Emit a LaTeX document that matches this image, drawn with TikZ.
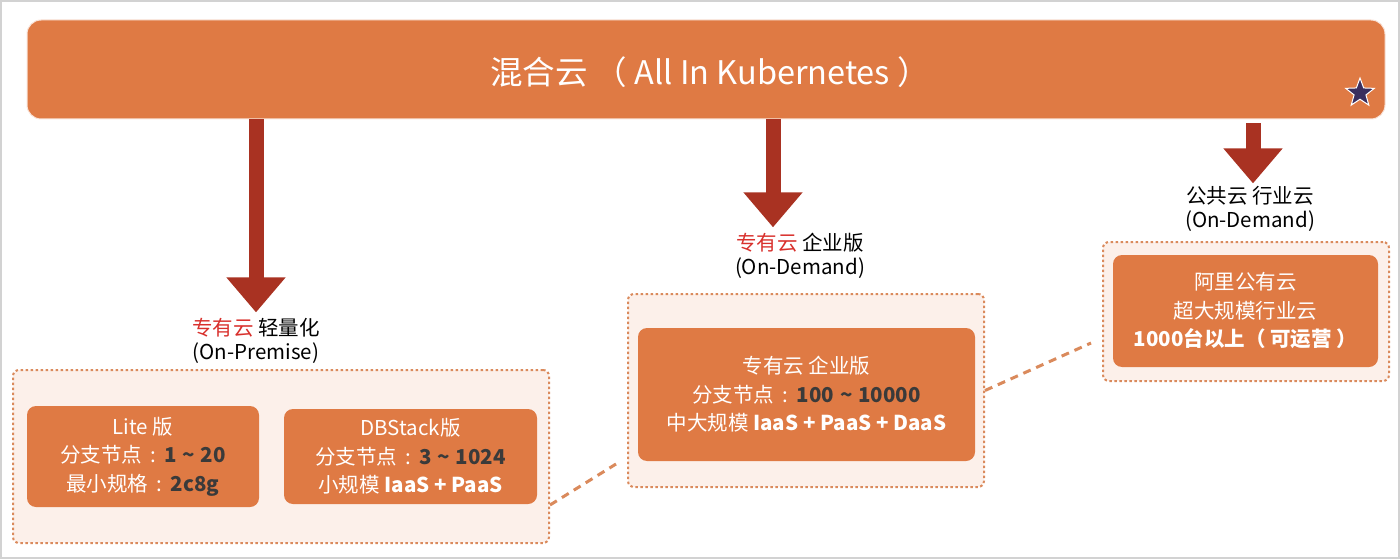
\documentclass[tikz,border=0pt]{standalone}
\usepackage{fontspec}
\setmainfont{Noto Sans CJK SC}
\usepackage{tikz}
\usetikzlibrary{arrows.meta, positioning, calc, shapes.geometric}
\usepackage{xcolor}
\definecolor{cloudorange}{HTML}{DF7A44}
\definecolor{arrowred}{HTML}{A93222}
\definecolor{peach}{HTML}{FCF0EA}
\definecolor{dotline}{HTML}{DA8A5C}
\definecolor{redtxt}{HTML}{D8302C}
\definecolor{numgray}{HTML}{3A3A3A}
\definecolor{starnavy}{HTML}{3A2E5E}
\newcommand{\tl}{\;\textasciitilde\;}
\newcommand{\cln}{\makebox[1.1em]{:}}

\begin{document}
\begin{tikzpicture}[x=1pt, y=-1pt,
    every node/.style={inner sep=0pt, align=center},
    group/.style={draw=dotline, fill=peach, line width=2pt, dash pattern=on 2.5pt off 2.5pt, rounded corners=6pt},
    card/.style={fill=cloudorange, rounded corners=9pt, text=white, font=\fontsize{20.5}{28.5}\selectfont},
    bigarrow/.style={draw=arrowred, line width=15pt, -{Triangle[width=57pt, length=35pt]}},
    link/.style={draw=dotline, line width=3pt, dash pattern=on 8pt off 6pt},
    tag/.style={font=\fontsize{20.5}{23.5}\selectfont}
  ]
  \useasboundingbox (0,0) rectangle (1400,559);
  \draw[gray!35, line width=2pt] (1,1) rectangle (1399,558);

  % banner
  \node[fill=cloudorange, draw=white!80!cloudorange, line width=1pt, rounded corners=14pt,
        minimum width=1358pt, minimum height=99pt] (banner) at (706,69.5) {};
  \node[text=white, font=\fontsize{32.5}{36}\selectfont] (title) at (710,72) {混合云 （ All In Kubernetes ）};
  \node[star, star points=5, star point ratio=2.4, fill=starnavy, draw=white, line width=1pt,
        minimum size=30pt] (star) at (1360,93) {};

  % labels
  \node[tag] (lblL) at (256,341) {\textcolor{redtxt}{专有云} 轻量化\\(On-Premise)};
  \node[tag] (lblM) at (800,256) {\textcolor{redtxt}{专有云} 企业版\\(On-Demand)};
  \node[tag] (lblR) at (1250,209) {公共云 行业云\\(On-Demand)};

  \coordinate (xL) at (256,0);
  \coordinate (xM) at (773,0);
  \coordinate (xR) at (1253,0);
  \draw[bigarrow] (banner.south -| xL) -- ([yshift=6pt]lblL.north -| xL);
  \draw[bigarrow] (banner.south -| xM) -- ([yshift=6pt]lblM.north -| xM);
  \draw[bigarrow] ([yshift=-4pt]banner.south -| xR) -- ([yshift=3pt]lblR.north -| xR);

  % groups
  \node[group, minimum width=536pt, minimum height=173pt] (grpL) at (281,456.5) {};
  \node[group, minimum width=356pt, minimum height=193pt] (grpM) at (806,390.5) {};
  \node[group, minimum width=286pt, minimum height=139pt] (grpR) at (1246,311.5) {};

  \node[card, minimum width=232pt, minimum height=101pt] (lite) at (143,456.5)
    {Lite 版\\分支节点\cln\textcolor{numgray}{\textbf{1\tl20}}\\最小规格\cln\textcolor{numgray}{\textbf{2c8g}}};
  \node[card, minimum width=253pt, minimum height=95pt] (dbstack) at (410.5,456.5)
    {DBStack版\\分支节点\cln\textcolor{numgray}{\textbf{3\tl1024}}\\小规模 \textbf{IaaS + PaaS}};
  \node[card, minimum width=337pt, minimum height=133pt] (ent) at (806.5,394.5)
    {专有云 企业版\\分支节点\cln\textcolor{numgray}{\textbf{100\tl10000}}\\中大规模 \textbf{IaaS + PaaS + DaaS}};
  \node[card, minimum width=265pt, minimum height=112pt] (pub) at (1245.5,311)
    {阿里公有云\\超大规模行业云\\\textbf{1000台以上（ 可运营 ）}};

  \coordinate (endM) at ([xshift=-11pt, yshift=-73.5pt]grpM.west);
  \coordinate (endR) at ([xshift=-11pt, yshift=-31.5pt]grpR.west);
  \draw[link] ([yshift=-48.5pt]grpL.east) -- (endM);
  \draw[link] (grpM.east) -- (endR);
\end{tikzpicture}
\end{document}
